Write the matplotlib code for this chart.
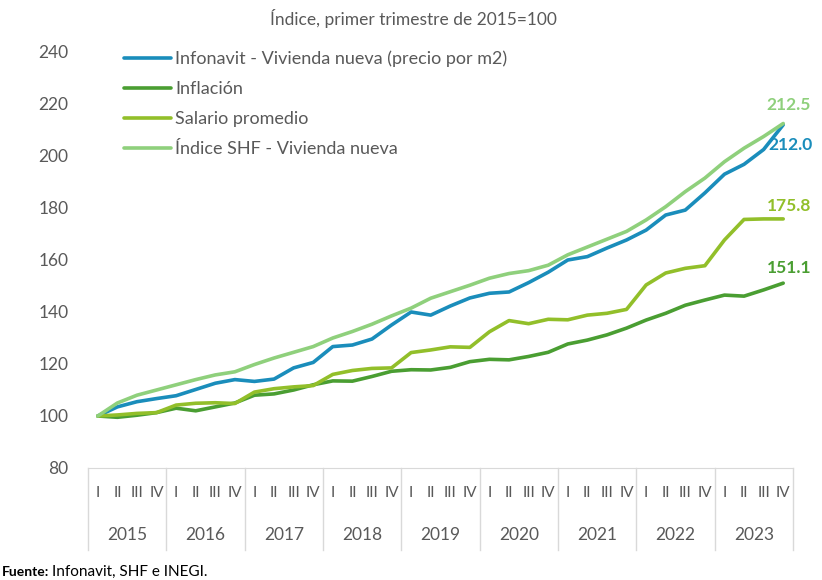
import numpy as np
import matplotlib.pyplot as plt
import matplotlib.transforms as mtransforms

plt.rcParams['font.family'] = ['Lato', 'DejaVu Sans']

# Data: quarterly index, Q1 2015 = 100
years = ['2015', '2016', '2017', '2018', '2019', '2020', '2021', '2022', '2023']
quarters = ['I', 'II', 'III', 'IV']
infonavit = [100, 103.5, 105.5, 106.7, 107.8, 110.2, 112.6, 114.0, 113.3, 114.2, 118.5, 120.6,
             126.7, 127.3, 129.6, 135.0, 140.0, 138.8, 142.3, 145.4, 147.2, 147.7, 151.3, 155.3,
             160.0, 161.3, 164.6, 167.7, 171.5, 177.3, 179.2, 185.8, 193.0, 196.8, 202.5, 212.0]
inflacion = [100, 99.5, 100.3, 101.3, 103.0, 102.0, 103.5, 105.0, 108.0, 108.5, 110.0, 112.0,
             113.5, 113.4, 115.2, 117.2, 117.8, 117.7, 118.7, 120.9, 121.8, 121.6, 122.9, 124.5,
             127.7, 129.2, 131.2, 133.8, 136.9, 139.5, 142.6, 144.6, 146.5, 146.1, 148.5, 151.1]
salario = [100, 100.4, 101.0, 101.3, 104.2, 104.9, 105.1, 104.8, 109.2, 110.5, 111.2, 111.7,
           116.0, 117.5, 118.3, 118.5, 124.4, 125.4, 126.6, 126.4, 132.4, 136.7, 135.5, 137.2,
           137.0, 138.8, 139.5, 141.0, 150.4, 155.0, 156.8, 157.8, 167.7, 175.6, 175.8, 175.8]
shf = [100, 105.0, 108.0, 110.0, 112.0, 114.0, 115.8, 117.0, 119.8, 122.3, 124.5, 126.7,
       130.0, 132.5, 135.3, 138.5, 141.5, 145.3, 147.8, 150.3, 153.0, 154.8, 155.9, 158.0,
       162.0, 165.0, 168.0, 171.0, 175.4, 180.5, 186.3, 191.5, 197.8, 203.0, 207.5, 212.5]

names = ['Infonavit - Vivienda nueva (precio por m2)', 'Inflación', 'Salario promedio',
         'Índice SHF - Vivienda nueva']
colors = ['#1a8dbb', '#4a9e32', '#92bf2a', '#8fd07c']
series = [infonavit, inflacion, salario, shf]

gray = '#595959'
x = np.arange(len(infonavit))

fig = plt.figure(figsize=(8.22, 5.8), dpi=100)
ax = fig.add_axes([88/822, 1-468/580, 705/822, 416/580])

for s, c, n in zip(series, colors, names):
    ax.plot(x, s, color=c, lw=2.6, label=n, solid_capstyle='round', solid_joinstyle='round')

ax.set_xlim(-0.5, len(x)-0.5)
ax.set_ylim(80, 240)
ax.set_yticks(range(80, 241, 20))
ax.tick_params(axis='y', length=0, pad=14, labelsize=12.5, labelcolor=gray)
ax.set_xticks([])
for sp in ['left', 'right', 'top']:
    ax.spines[sp].set_visible(False)
ax.spines['bottom'].set_color('#d9d9d9')

# category axis (quarters + years)
tr = mtransforms.blended_transform_factory(ax.transData, ax.transAxes)
for i in x:
    ax.text(i, -0.06, quarters[i % 4], transform=tr, ha='center', va='center',
            fontsize=11, color=gray)
for k, y in enumerate(years):
    ax.text(4*k + 1.5, -0.161, y, transform=tr, ha='center', va='center',
            fontsize=12.5, color=gray)
for k in range(len(years)+1):
    ax.plot([4*k - 0.5]*2, [0, -0.197], transform=tr, color='#d9d9d9', lw=1, clip_on=False)

# end labels: infonavit, inflacion, salario, shf
offsets = [(5, -14.5), (4, 11), (4, 9), (4, 13)]
for s, c, off in zip(series, colors, offsets):
    ax.annotate(f'{s[-1]:.1f}', (x[-1], s[-1]), xytext=off,
                textcoords='offset points', ha='center', va='center',
                fontsize=12.5, fontweight='bold', color=c)

leg = ax.legend(loc='upper left', bbox_to_anchor=(0.038, 1.025), frameon=False, fontsize=13,
                handlelength=2.6, handletextpad=0.25, labelspacing=0.78, borderpad=0)
for t in leg.get_texts():
    t.set_color(gray)

fig.text(413/822, 1-18/580, 'Índice, primer trimestre de 2015=100', ha='center', va='center',
         fontsize=12.5, color=gray)
fig.text(2/822, 1-572/580, 'Fuente:', ha='left', va='center', fontsize=10, fontweight='bold')
fig.text(52/822, 1-572/580, 'Infonavit, SHF e INEGI.', ha='left', va='center', fontsize=11)

fig.savefig('out.png', dpi=100)
